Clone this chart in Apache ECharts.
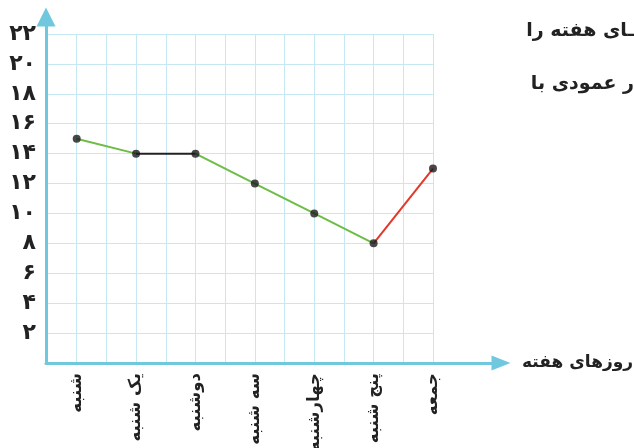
<!DOCTYPE html>
<html>
<head>
<meta charset="utf-8">
<script src="https://cdn.jsdelivr.net/npm/echarts@6/dist/echarts.min.js"></script>
<style>
html, body { margin: 0; padding: 0; background: #fff; }
#main { width: 634px; height: 448px; }
</style>
</head>
<body>
<div id="main"></div>
<script>
// days of the week (x categories)
var days = ['شنبه', 'یک شنبه', 'دوشنبه', 'سه شنبه', 'چهارشنبه', 'پنج شنبه', 'جمعه'];
// value for each day
var values = [15, 14, 14, 12, 10, 8, 13];
// colour of each segment between two days
var segmentColors = ['#6cbd45', '#222222', '#6cbd45', '#6cbd45', '#6cbd45', '#e2382b'];
// y tick labels, Persian digits, for 0,2,...,22
var yTickLabels = ['', '۲', '۴', '۶', '۸', '۱۰', '۱۲', '۱۴', '۱۶', '۱۸', '۲۰', '۲۲'];
var xName = 'روزهای هفته';
var sideText = ['ـای هفته را', 'ر عمودی با'];

var axisColor = '#6fc8dd';
var gridColor = '#c6e8f2';
var font = 'DejaVu Sans';

var chart = echarts.init(document.getElementById('main'));

var series = [];
for (var i = 0; i < values.length - 1; i++) {
    series.push({
        type: 'line',
        xAxisIndex: 0,
        yAxisIndex: 0,
        data: [[i, values[i]], [i + 1, values[i + 1]]],
        showSymbol: false,
        lineStyle: { color: segmentColors[i], width: 2 },
        silent: true,
        z: 3
    });
}
series.push({
    type: 'scatter',
    xAxisIndex: 0,
    yAxisIndex: 0,
    data: values.map(function (v, k) { return [k, v]; }),
    symbolSize: 8,
    itemStyle: { color: '#1a1a1a' },
    z: 5
});

chart.setOption({
    animation: false,
    grid: [
        { left: 47, right: 201, top: 34, bottom: 85, outerBoundsMode: 'none', containLabel: false },
        // grid only for the arrowed axis lines
        { left: 46, right: 133, top: 17, bottom: 85, outerBoundsMode: 'none', containLabel: false }
    ],
    xAxis: [{
        gridIndex: 0,
        type: 'value',
        min: -0.5,
        max: 6,
        interval: 0.5,
        axisLine: { show: false },
        axisTick: { show: false },
        splitLine: { show: true, lineStyle: { color: gridColor, width: 1 } },
        axisLabel: {
            rotate: 90,
            margin: 10,
            fontFamily: font,
            fontWeight: 'bold',
            fontSize: 16.5,
            color: '#222',
            formatter: function (v) {
                return Number.isInteger(v) && v >= 0 ? days[v] : '';
            }
        }
    }, {
        gridIndex: 1,
        type: 'value',
        min: 0,
        max: 1,
        axisLine: {
            show: true,
            symbol: ['none', 'triangle'],
            symbolSize: [15, 19],
            lineStyle: { color: axisColor, width: 3 }
        },
        axisTick: { show: false },
        axisLabel: { show: false },
        splitLine: { show: false },
        name: xName,
        nameLocation: 'end',
        nameGap: 21,
        nameTextStyle: { fontFamily: font, fontWeight: 'bold', fontSize: 17, color: '#222' }
    }],
    yAxis: [{
        gridIndex: 0,
        type: 'value',
        min: 0,
        max: 22,
        interval: 2,
        axisLine: { show: false },
        axisTick: { show: false },
        splitLine: { show: true, lineStyle: { color: gridColor, width: 1 } },
        axisLabel: {
            margin: 11,
            fontFamily: font,
            fontWeight: 'bold',
            fontSize: 22,
            color: '#222',
            formatter: function (v) { return yTickLabels[v / 2]; }
        }
    }, {
        gridIndex: 1,
        type: 'value',
        min: 0,
        max: 1,
        axisLine: {
            show: true,
            symbol: ['none', 'triangle'],
            symbolSize: [19, 19],
            lineStyle: { color: axisColor, width: 3 }
        },
        axisTick: { show: false },
        axisLabel: { show: false },
        splitLine: { show: false }
    }],
    graphic: [{
        type: 'text',
        right: 0,
        top: 22,
        style: { text: sideText[0], font: 'bold 19px "DejaVu Sans"', fill: '#222' }
    }, {
        type: 'text',
        right: 0,
        top: 75,
        style: { text: sideText[1], font: 'bold 19px "DejaVu Sans"', fill: '#222' }
    }],
    series: series
});
</script>
</body>
</html>
